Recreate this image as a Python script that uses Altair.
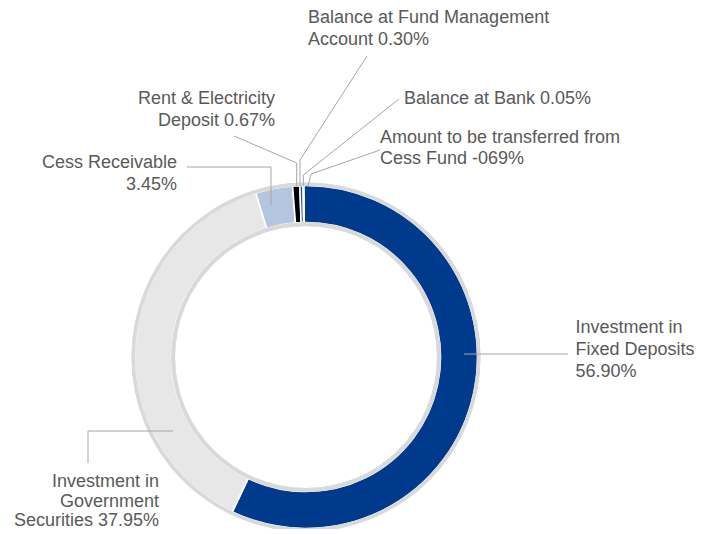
import math
import altair as alt
import pandas as pd

# ---- data ----
categories = [
    "Investment in Fixed Deposits",
    "Investment in Government Securities",
    "Cess Receivable",
    "Rent & Electricity Deposit",
    "Balance at Fund Management Account",
    "Balance at Bank",
    "Amount to be transferred from Cess Fund",
]
shares = [56.90, 37.95, 3.45, 0.67, 0.30, 0.05, 0.0]
label_lines = [
    ["Investment in", "Fixed Deposits", "56.90%"],
    ["Investment in", "Government", "Securities 37.95%"],
    ["Cess Receivable", "3.45%"],
    ["Rent & Electricity", "Deposit 0.67%"],
    ["Balance at Fund Management", "Account 0.30%"],
    ["Balance at Bank 0.05%"],
    ["Amount to be transferred from", "Cess Fund -069%"],
]

# ---- styles / layout ----
slice_colors = ["#003A8C", "#E7E7E7", "#B4C5DF", "#000000", "#1F4E9E", "#F4F4F4", "#FFFFFF"]
M = 8  # page margin
CX, CY = 306 - M, 357 - M
START = math.radians(-0.8)

# label layout in page pixels: (x, [line y centers], align)
label_layout = [
    (575.5, [328, 350, 372], "left"),
    (159, [482, 501.5, 520.5], "right"),
    (177, [163, 185], "right"),
    (275, [99, 121], "right"),
    (308, [18, 40], "left"),
    (404, [99], "left"),
    (380, [138, 159], "left"),
]
leaders = [
    [(464, 354), (568, 354)],
    [(88, 463), (88, 431), (173, 431)],
    [(187, 167), (271, 167), (271, 205)],
    [(234, 136), (296.7, 163), (296.7, 186)],
    [(367, 56), (300, 160), (300, 186)],
    [(399, 99), (303.3, 175), (303.3, 186)],
    [(380, 150), (311, 174), (308, 186)],
]

TEXT = "#595959"
LEADER = "#A6A6A6"
RING = "#D9D9D9"

slices = pd.DataFrame({"name": categories, "share": shares, "idx": list(range(len(categories)))})

text_rows = []
for (x, ys, align), lines in zip(label_layout, label_lines):
    for y, t in zip(ys, lines):
        text_rows.append({"x": x - M, "y": y - M, "t": t, "align": align})
text_df = pd.DataFrame(text_rows)

leader_rows = []
for i, pts in enumerate(leaders):
    for j, (x, y) in enumerate(pts):
        leader_rows.append({"id": i, "o": j, "x": x - M, "y": y - M})
leader_df = pd.DataFrame(leader_rows)

one = pd.DataFrame({"a": [0]})

ring_bg = alt.Chart(one).mark_arc(
    radius=174.5, radius2=131, theta=0, theta2=2 * math.pi, color=RING
).encode(x=alt.value(CX), y=alt.value(CY))

donut = alt.Chart(slices).mark_arc(
    radius=171.5, radius2=134.5, stroke="white", strokeWidth=1.6
).encode(
    theta=alt.Theta("share:Q", stack=True,
                    scale=alt.Scale(range=[START, START + 2 * math.pi])),
    order=alt.Order("idx:Q"),
    color=alt.Color("name:N", scale=alt.Scale(domain=categories, range=slice_colors), legend=None),
    x=alt.value(CX), y=alt.value(CY),
)

outer_ring = alt.Chart(one).mark_arc(
    radius=174.5, radius2=171, theta=0, theta2=2 * math.pi, color=RING
).encode(x=alt.value(CX), y=alt.value(CY))
inner_ring = alt.Chart(one).mark_arc(
    radius=135, radius2=131, theta=0, theta2=2 * math.pi, color=RING
).encode(x=alt.value(CX), y=alt.value(CY))

lines = alt.Chart(leader_df).mark_line(color=LEADER, strokeWidth=1).encode(
    x=alt.X("x:Q", scale=None, axis=None),
    y=alt.Y("y:Q", scale=None, axis=None),
    detail="id:N",
    order="o:Q",
)

def text_layer(align):
    return alt.Chart(text_df[text_df["align"] == align]).mark_text(
        align=align, baseline="middle", font="Liberation Sans", fontSize=18, color=TEXT
    ).encode(
        x=alt.X("x:Q", scale=None, axis=None),
        y=alt.Y("y:Q", scale=None, axis=None),
        text="t:N",
    )

chart = alt.layer(
    ring_bg, donut, outer_ring, inner_ring, lines, text_layer("left"), text_layer("right")
).properties(
    width=687, height=521, autosize=alt.AutoSizeParams(type="none"), padding=0
).configure_view(stroke=None)

chart.save("out.html", embed_options={"renderer": "svg", "actions": False})
